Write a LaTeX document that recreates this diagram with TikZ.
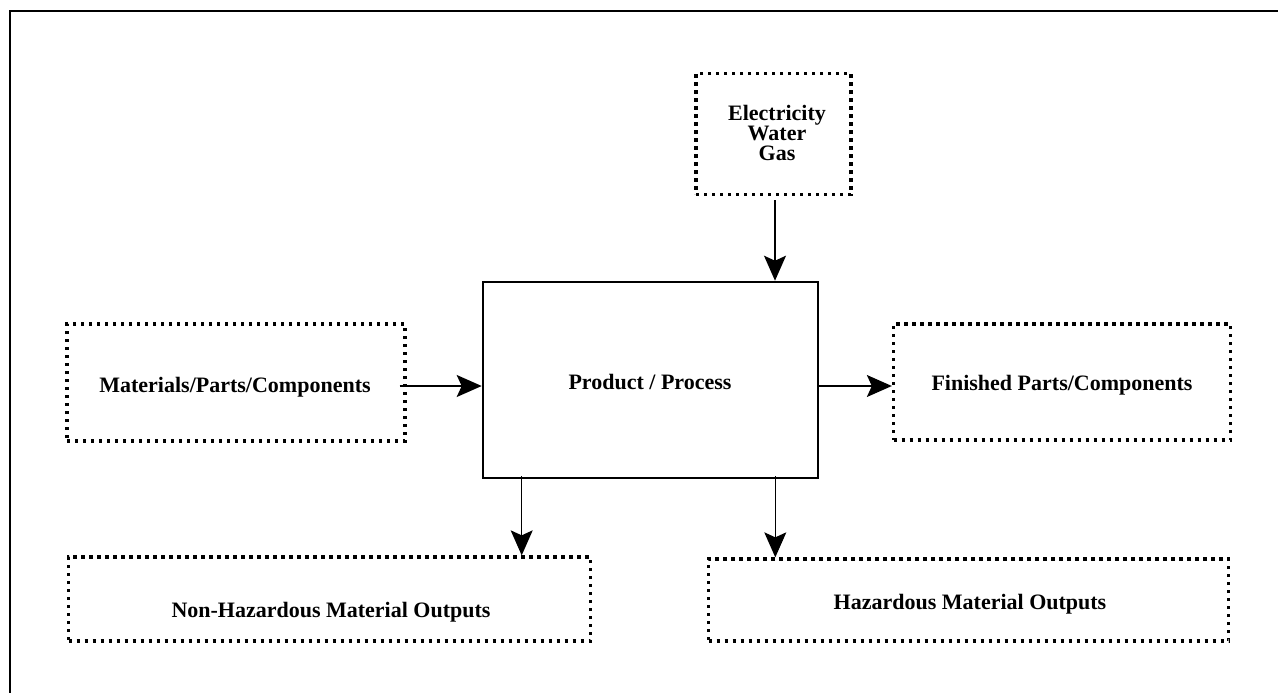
\documentclass[tikz,border=0pt]{standalone}
\usepackage{fontspec}
\setmainfont{Liberation Serif}
\usetikzlibrary{arrows.meta}
\begin{document}
\begin{tikzpicture}[x=1pt,y=-1pt,
  dotbox/.style={draw, line width=3.3pt, dash pattern=on 3.3pt off 4.7pt, inner sep=0pt},
  solidbox/.style={draw, line width=2.6pt, inner sep=0pt},
  txt/.style={font=\fontsize{22}{20}\selectfont\bfseries, inner sep=0pt, align=center},
  arr/.style={line width=1.3pt, -{Stealth[length=25pt, width=22pt, inset=5pt]}},
  frame/.style={line width=2.2pt}
]
\useasboundingbox (0,0) rectangle (1278,693);
% outer frame (cropped)
\draw[frame] (10,700) -- (10,11) -- (1285,11);
% boxes
\node[dotbox, minimum width=338pt, minimum height=117pt] (mat) at (236,382.5) {};
\node[solidbox, minimum width=335pt, minimum height=196pt] (mainbox) at (650.5,380) {};
\node[dotbox, minimum width=337pt, minimum height=116pt] (fin) at (1062,382) {};
\node[dotbox, minimum width=155pt, minimum height=121pt] (elec) at (773.5,134) {};
\node[dotbox, minimum width=522pt, minimum height=84pt] (nonhaz) at (329.5,599) {};
\node[dotbox, minimum width=520pt, minimum height=82pt] (haz) at (968.5,600) {};
% texts
\node[txt] (matT) at (235,387) {Materials/Parts/Components};
\node[txt] (mainT) at (650,382) {Product / Process};
\node[txt] (finT) at (1062,385) {Finished Parts/Components};
\node[txt] (elecT) at (777,133) {Electricity\\Water\\Gas};
\node[txt] (nonhazT) at (331,612) {Non-Hazardous Material Outputs};
\node[txt] (hazT) at (970,604) {Hazardous Material Outputs};
% connectors
\draw[arr] ([xshift=1.5pt,yshift=-4pt]elec.south) -- ([xshift=1.5pt]elec.south |- mainbox.north);
\draw[arr] ([xshift=-7pt,yshift=-3.5pt]mat.east) -- ([yshift=-3.5pt]mat.east -| mainbox.west);
\draw[arr] ([xshift=-2pt,yshift=-6pt]mainbox.east) -- ([yshift=-6pt]mainbox.east -| fin.west);
\draw[arr] ([xshift=40pt,yshift=3pt]mainbox.south west) -- ([xshift=40pt]mainbox.south west |- nonhaz.north);
\draw[arr] ([xshift=-44pt,yshift=3pt]mainbox.south east) -- ([xshift=-44pt]mainbox.south east |- haz.north);
\end{tikzpicture}
\end{document}
